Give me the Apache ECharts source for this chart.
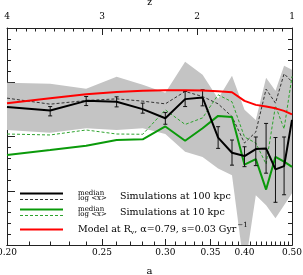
<!DOCTYPE html>
<html><head><meta charset="utf-8">
<script src="https://cdn.jsdelivr.net/npm/echarts@6/dist/echarts.min.js"></script>
<style>html,body{margin:0;padding:0;background:#fff}#c{width:303px;height:275px}</style>
</head><body><div id="c"></div>
<script>
// expansion factor a (x), values in arbitrary log units (y axis has no labels)
const aValues = [0.20,0.22,0.24,0.26,0.28,0.30,0.32,0.34,0.36,0.38,0.40,0.42,0.44,0.46,0.48,0.50];
const median100 = [2.546,2.478,2.657,2.639,2.504,2.337,2.689,2.719,1.978,1.700,1.639,1.769,1.781,1.393,1.454,2.306];
const errLow100 = [null,2.380,2.570,2.546,2.430,2.226,2.552,2.565,1.781,1.472,1.444,1.463,1.324,0.787,0.926,null];
const errHigh100 = [null,2.552,2.737,2.731,2.615,2.441,2.830,2.861,2.181,1.935,1.811,1.991,2.241,1.981,1.991,null];
const logx100 = [2.707,2.596,2.663,2.694,2.652,2.602,2.830,2.737,2.602,2.367,1.880,2.083,2.874,2.615,3.157,3.009];
const median10 = [1.657,1.750,1.830,1.935,1.948,2.185,1.922,2.152,2.380,2.361,1.481,1.583,1.022,1.626,1.537,1.441];
const logx10 = [2.046,2.028,2.120,2.046,2.041,2.491,2.222,2.343,2.769,2.639,1.991,1.880,1.491,2.565,2.139,3.107];
const model = [2.615,2.707,2.778,2.819,2.843,2.852,2.852,2.848,2.833,2.815,2.657,2.583,2.552,2.519,2.472,2.407];
const bandLow = [2.120,2.070,2.152,2.120,2.152,2.046,1.719,1.620,1.411,1.287,-0.472,0.917,0.731,0.491,0.731,0.954];
const bandHigh = [2.991,2.972,2.880,3.102,2.954,2.806,3.380,3.139,2.694,3.120,2.491,2.306,3.083,2.843,3.306,3.231];
const aTickLabels = [0.20,0.25,0.30,0.35,0.40,0.50];
const aMinorTicks = [0.21,0.22,0.23,0.24,0.26,0.27,0.28,0.29,0.31,0.32,0.33,0.34,0.36,0.37,0.38,0.39,0.41,0.42,0.43,0.44,0.45,0.46,0.47,0.48,0.49];
const zTickLabels = [4,3,2,1];

const toZ = a => 1/a - 1;
const zs = aValues.map(toZ);
const pair = arr => zs.map((z,i)=>[z, arr[i]]);

const FONT = 'DejaVu Serif';
const AX = '#222';
const chart = echarts.init(document.getElementById('c'), null, {renderer:'canvas'});

const baseX = {type:'value', min:1, max:4, inverse:true, splitLine:{show:false},
  axisLine:{show:true, lineStyle:{color:AX, width:1}}};

chart.setOption({
  animation:false,
  grid:{left:7, right:11, top:28, bottom:30, containLabel:false, outerBoundsMode:'none'},
  xAxis:[
    Object.assign({}, baseX, {position:'bottom', name:'a', nameLocation:'middle', nameGap:21,
      nameTextStyle:{fontFamily:FONT, fontSize:10, color:'#000'},
      axisTick:{show:true, inside:true, length:6, customValues: aTickLabels.map(toZ), lineStyle:{color:AX}},
      axisLabel:{show:true, margin:3, fontFamily:FONT, fontSize:9, color:'#000', hideOverlap:false,
        showMinLabel:true, showMaxLabel:true,
        customValues: aTickLabels.map(toZ), formatter: v => (1/(1+v)).toFixed(2)}}),
    Object.assign({}, baseX, {position:'bottom',
      axisTick:{show:true, inside:true, length:3.5, customValues: aMinorTicks.map(toZ), lineStyle:{color:AX}},
      axisLabel:{show:false}}),
    Object.assign({}, baseX, {position:'top', interval:1, name:'z', nameLocation:'middle', nameGap:20,
      nameTextStyle:{fontFamily:FONT, fontSize:9, color:'#000'},
      axisTick:{show:true, inside:true, length:7, lineStyle:{color:AX}},
      minorTick:{show:true, splitNumber:10, length:3.5, lineStyle:{color:AX}},
      axisLabel:{show:true, margin:7, fontFamily:FONT, fontSize:9, color:'#000',
        showMinLabel:true, showMaxLabel:true,
        customValues: zTickLabels, formatter: v => String(Math.round(v))}})
  ],
  yAxis:[
    {type:'value', min:0, max:4, interval:1, position:'left', splitLine:{show:false},
      axisLine:{show:true, lineStyle:{color:AX}}, axisLabel:{show:false},
      axisTick:{show:true, inside:true, length:8, lineStyle:{color:AX}},
      minorTick:{show:true, splitNumber:5, length:4, lineStyle:{color:AX}}},
    {type:'value', min:0, max:4, interval:1, position:'right', splitLine:{show:false},
      axisLine:{show:true, lineStyle:{color:AX}}, axisLabel:{show:false},
      axisTick:{show:true, inside:true, length:8, lineStyle:{color:AX}},
      minorTick:{show:true, splitNumber:5, length:4, lineStyle:{color:AX}}}
  ],
  series:[
    {type:'custom', z:1, clip:true, silent:true,
      data:[[zs[0], bandLow[0], bandHigh[0]]],
      encode:{x:0, y:[1,2]},
      renderItem:(params, api)=>{
        const pts = [];
        zs.forEach((z,i)=>pts.push(api.coord([z, bandHigh[i]])));
        for (let i=zs.length-1;i>=0;i--) pts.push(api.coord([zs[i], bandLow[i]]));
        return {type:'polygon', shape:{points:pts}, style:{fill:'#c4c4c4', stroke:null}};
      }},
    {type:'line', data:pair(logx100), symbol:'none', lineStyle:{color:'#333', width:1, type:[3,2]}, z:3},
    {type:'line', data:pair(logx10), symbol:'none', lineStyle:{color:'#2ea32e', width:1, type:[3,2]}, z:3},
    {type:'line', data:pair(median10), symbol:'none', lineStyle:{color:'#0a9a0a', width:2}, z:4},
    {type:'custom', z:5,
      data: zs.map((z,i)=>[z, errLow100[i], errHigh100[i]]).filter(d=>d[1]!==null),
      encode:{x:0, y:[1,2]},
      renderItem:(params, api)=>{
        const x = api.value(0);
        const p1 = api.coord([x, api.value(2)]);
        const p2 = api.coord([x, api.value(1)]);
        const st = {stroke:'#111', lineWidth:1};
        return {type:'group', children:[
          {type:'line', shape:{x1:p1[0], y1:p1[1], x2:p2[0], y2:p2[1]}, style:st},
          {type:'line', shape:{x1:p1[0]-2, y1:p1[1], x2:p1[0]+2, y2:p1[1]}, style:st},
          {type:'line', shape:{x1:p2[0]-2, y1:p2[1], x2:p2[0]+2, y2:p2[1]}, style:st}
        ]};
      }},
    {type:'line', data:pair(median100), symbol:'none', lineStyle:{color:'#000', width:2}, z:6},
    {type:'line', data:pair(model), symbol:'none', lineStyle:{color:'#ff0000', width:2}, z:7}
  ],
  graphic:[
    {type:'line', shape:{x1:20,y1:193.5,x2:63,y2:193.5}, style:{stroke:'#000', lineWidth:2}, z:10},
    {type:'line', shape:{x1:20,y1:199.5,x2:63,y2:199.5}, style:{stroke:'#333', lineWidth:1, lineDash:[3,2]}, z:10},
    {type:'text', x:78, y:193, style:{text:'median', font:'7px "DejaVu Serif"', fill:'#000', verticalAlign:'middle'}, z:10},
    {type:'text', x:78, y:198.5, style:{text:'log <x>', font:'7px "DejaVu Serif"', fill:'#000', verticalAlign:'middle'}, z:10},
    {type:'text', x:120, y:196.5, style:{text:'Simulations at 100 kpc', font:'9.5px "DejaVu Serif"', fill:'#000', verticalAlign:'middle'}, z:10},
    {type:'line', shape:{x1:20,y1:209.5,x2:63,y2:209.5}, style:{stroke:'#0a9a0a', lineWidth:2}, z:10},
    {type:'line', shape:{x1:20,y1:215.5,x2:63,y2:215.5}, style:{stroke:'#2ea32e', lineWidth:1, lineDash:[3,2]}, z:10},
    {type:'text', x:78, y:209, style:{text:'median', font:'7px "DejaVu Serif"', fill:'#000', verticalAlign:'middle'}, z:10},
    {type:'text', x:78, y:214.5, style:{text:'log <x>', font:'7px "DejaVu Serif"', fill:'#000', verticalAlign:'middle'}, z:10},
    {type:'text', x:120, y:213, style:{text:'Simulations at 10 kpc', font:'9.5px "DejaVu Serif"', fill:'#000', verticalAlign:'middle'}, z:10},
    {type:'line', shape:{x1:20,y1:229.5,x2:63,y2:229.5}, style:{stroke:'#ff0000', lineWidth:2}, z:10},
    {type:'text', x:78, y:229.5, style:{
      text:'Model at R{sub|v}, α=0.79, s=0.03 Gyr{sup|−1}',
      font:'9.5px "DejaVu Serif"', fill:'#000', verticalAlign:'middle',
      rich:{sub:{fontSize:6, fontFamily:FONT, padding:[6,0,0,0]}, sup:{fontSize:7, fontFamily:FONT, padding:[0,0,8,1]}}}, z:10}
  ]
});
</script>
</body></html>
